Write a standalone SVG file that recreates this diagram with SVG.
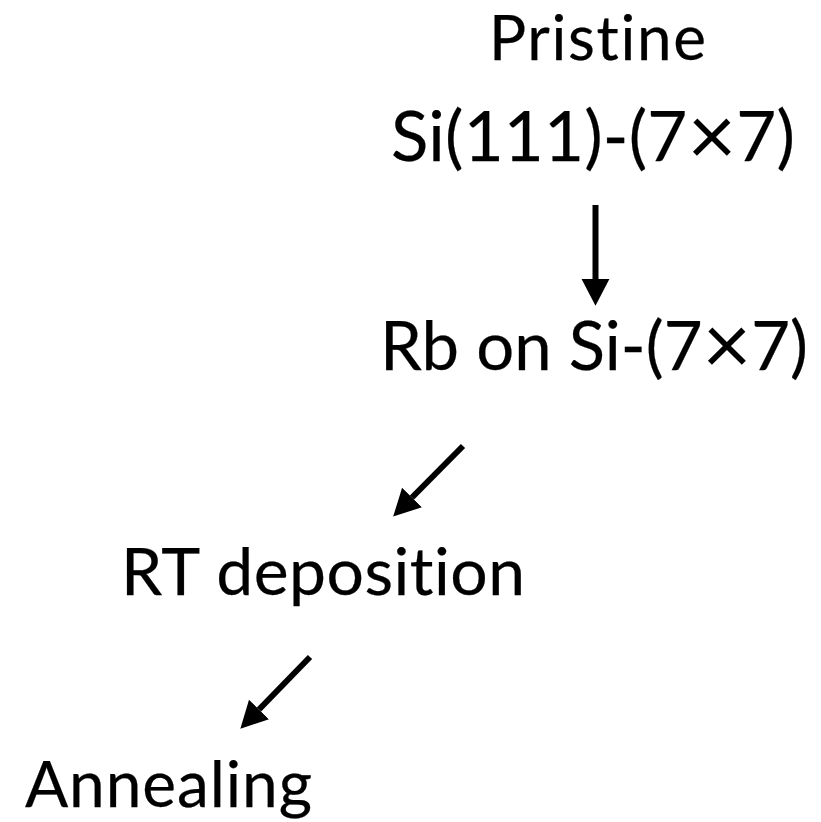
<svg xmlns="http://www.w3.org/2000/svg" width="821" height="822" viewBox="0 0 821 822">
  <style>
    .label { font-family: Lato, "Open Sans", "Liberation Sans", sans-serif; fill: #000; font-variant-ligatures: none; stroke: #000; stroke-width: 0.25; }
    .times { font-size: 84px; stroke-width: 0; }
    .edge { stroke: #000; stroke-width: 6; fill: none; }
  </style>
  <defs>
    <marker id="head" markerUnits="userSpaceOnUse" markerWidth="28" markerHeight="30" viewBox="0 -14 26 28" refX="0" refY="0" orient="auto">
      <path d="M0,-13 L25,0 L0,13 Z" fill="#000"/>
    </marker>
  </defs>
  <rect width="821" height="822" fill="#fff"/>

  <g id="pristine">
    <text class="label" x="489" y="60" font-size="62" textLength="217" lengthAdjust="spacing">Pristine</text>
    <text class="label" x="391" y="161" font-size="69" textLength="404" lengthAdjust="spacing">Si(111)-(7<tspan class="times" dy="4">×</tspan><tspan dy="-4">7)</tspan></text>
  </g>

  <g id="rb-on-si">
    <text class="label" x="380" y="370" font-size="67" textLength="428" lengthAdjust="spacing">Rb on Si-(7<tspan class="times" dy="4">×</tspan><tspan dy="-4">7)</tspan></text>
  </g>

  <g id="rt-deposition">
    <text class="label" x="121" y="595" font-size="66" textLength="404" lengthAdjust="spacing">RT deposition</text>
  </g>

  <g id="annealing">
    <text class="label" x="25" y="807" font-size="64" textLength="287" lengthAdjust="spacing">Annealing</text>
  </g>

  <g id="connectors">
    <line class="edge" x1="595.5" y1="205" x2="595.5" y2="279" marker-end="url(#head)"/>
    <line class="edge" x1="463" y1="446" x2="412" y2="497.5" marker-end="url(#head)"/>
    <line class="edge" x1="310" y1="657" x2="259" y2="709.5" marker-end="url(#head)"/>
  </g>
</svg>
